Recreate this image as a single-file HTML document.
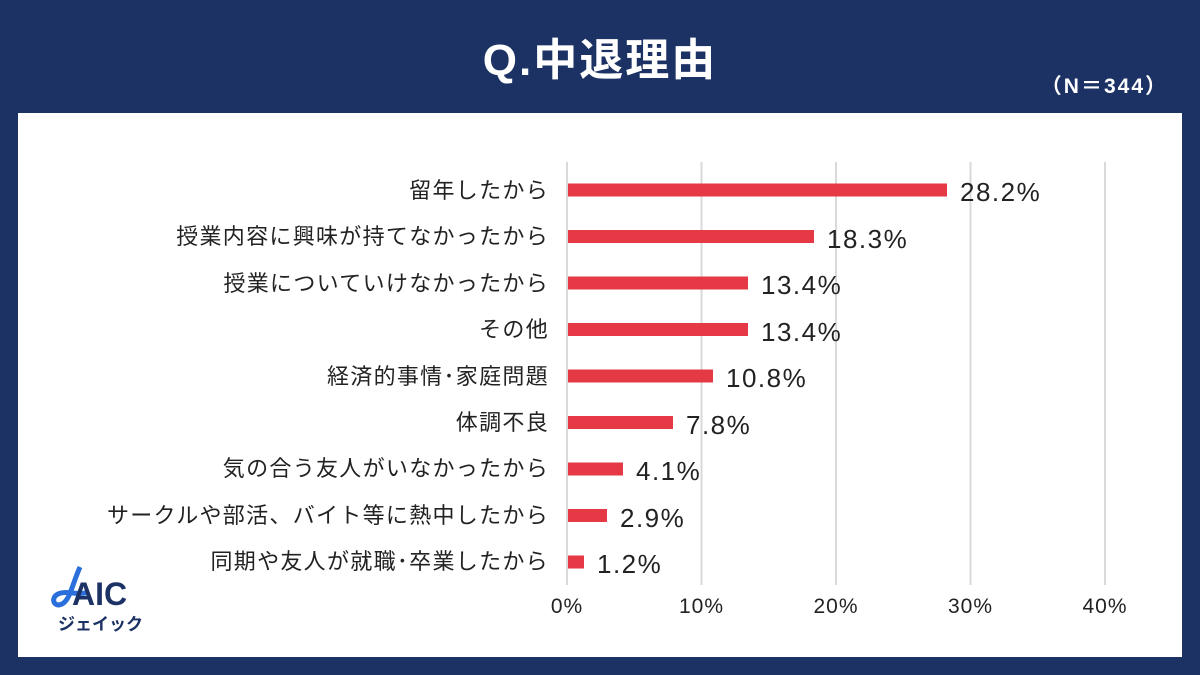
<!DOCTYPE html>
<html><head><meta charset="utf-8"><style>
body{margin:0;width:1200px;height:675px;background:#1c3264;overflow:hidden}
</style></head><body>
<svg width="1200" height="675" xmlns="http://www.w3.org/2000/svg" style="display:block;font-family:'Liberation Sans','Noto Sans CJK JP',sans-serif">
<rect width="1200" height="675" fill="#1c3264"/>
<text x="600" y="75" text-anchor="middle" fill="#fff" font-size="44" font-weight="bold" letter-spacing="2">Q.中退理由</text>
<text x="1168" y="93" text-anchor="end" fill="#fff" font-size="21" font-weight="bold" letter-spacing="2">（N＝344）</text>
<rect x="18" y="113" width="1164" height="544" fill="#fff"/>
<g stroke="#d9d9d9" stroke-width="2">
<line x1="567" y1="162" x2="567" y2="585"/>
<line x1="701.5" y1="162" x2="701.5" y2="585"/>
<line x1="836" y1="162" x2="836" y2="585"/>
<line x1="970.5" y1="162" x2="970.5" y2="585"/>
<line x1="1105" y1="162" x2="1105" y2="585"/>
</g>
<g font-size="21" fill="#222" text-anchor="middle" letter-spacing="1">
<text x="567" y="613">0%</text><text x="701.5" y="613">10%</text><text x="836" y="613">20%</text><text x="970.5" y="613">30%</text><text x="1105" y="613">40%</text>
</g>
<g fill="#e63946">
<rect x="568" y="183.5" width="379" height="13"/>
<rect x="568" y="230" width="246" height="13"/>
<rect x="568" y="276.5" width="180" height="13"/>
<rect x="568" y="323" width="180" height="13"/>
<rect x="568" y="369.5" width="145" height="13"/>
<rect x="568" y="416" width="105" height="13"/>
<rect x="568" y="462.5" width="55" height="13"/>
<rect x="568" y="509" width="39" height="13"/>
<rect x="568" y="555.5" width="16" height="13"/>
</g>
<g font-size="26" fill="#222" letter-spacing="1.5">
<text x="960" y="201">28.2%</text>
<text x="827" y="248">18.3%</text>
<text x="761" y="294">13.4%</text>
<text x="761" y="341">13.4%</text>
<text x="726" y="387">10.8%</text>
<text x="686" y="434">7.8%</text>
<text x="636" y="480">4.1%</text>
<text x="620" y="527">2.9%</text>
<text x="597" y="573">1.2%</text>
</g>
<g font-size="22" fill="#222" text-anchor="end" letter-spacing="1.3">
<text x="549" y="198">留年したから</text>
<text x="549" y="244">授業内容に興味が持てなかったから</text>
<text x="549" y="291">授業についていけなかったから</text>
<text x="549" y="337">その他</text>
<text x="549" y="384">経済的事情･家庭問題</text>
<text x="549" y="430">体調不良</text>
<text x="549" y="476">気の合う友人がいなかったから</text>
<text x="549" y="523">サークルや部活、バイト等に熱中したから</text>
<text x="549" y="569">同期や友人が就職･卒業したから</text>
</g>
<path d="M80,567 C72,585 70,600 62,604 C54,608 50,598 58,594 C66,590 80,596 88,592" stroke="#2a6fdb" stroke-width="5" fill="none"/>
<text x="72" y="605" font-size="32" fill="#1c3264" font-weight="bold">AIC</text>
<text x="58" y="630" font-size="17" fill="#1c3264" font-weight="bold">ジェイック</text>
</svg>
</body></html>
